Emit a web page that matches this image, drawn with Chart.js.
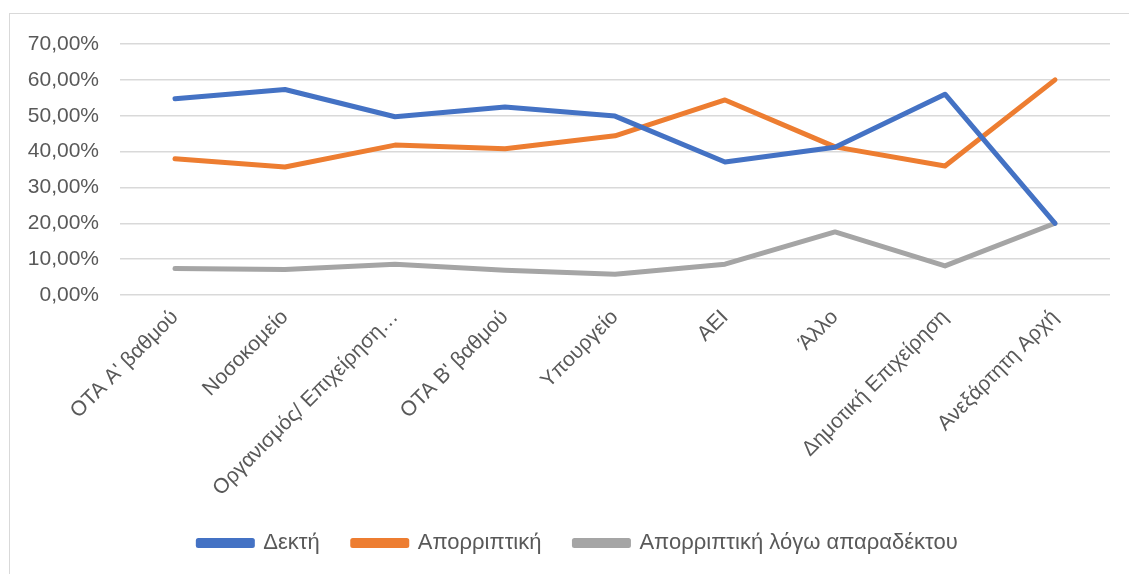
<!DOCTYPE html>
<html>
<head>
<meta charset="utf-8">
<script src="https://cdn.jsdelivr.net/npm/chart.js@4/dist/chart.umd.min.js"></script>
<style>
  html, body { margin: 0; padding: 0; background: #fff; overflow: hidden; }
  #wrap { position: relative; width: 1129px; height: 574px; }
  #frame { position: absolute; left: 9px; top: 13px; width: 1200px; height: 700px; border: 1px solid #d9d9d9; box-sizing: border-box; }
  canvas { position: absolute; left: 0; top: 0; }
</style>
</head>
<body>
<div id="wrap">
  <div id="frame"></div>
  <canvas id="c" width="1129" height="574"></canvas>
</div>
<script>
const categories = [
  "ΟΤΑ Α' βαθμού",
  "Νοσοκομείο",
  "Οργανισμός/ Επιχείρηση…",
  "ΟΤΑ Β' βαθμού",
  "Υπουργείο",
  "ΑΕΙ",
  "Άλλο",
  "Δημοτική Επιχείρηση",
  "Ανεξάρτητη Αρχή"
];
const dekti = [54.7, 57.3, 49.7, 52.4, 49.9, 37.1, 41.2, 56.0, 20.0];
const aporriptiki = [38.0, 35.7, 41.8, 40.8, 44.4, 54.4, 41.3, 36.0, 60.0];
const aporriptikiApar = [7.4, 7.1, 8.6, 6.9, 5.8, 8.6, 17.6, 8.1, 20.0];
const yTicks = [0, 10, 20, 30, 40, 50, 60, 70];

const FONT = "'Liberation Sans', 'DejaVu Sans', sans-serif";
const TXT = '#595959';

const shiftLegend = {
  id: 'shiftLegend',
  afterLayout(chart) {
    if (chart.legend) { chart.legend.left += 18; chart.legend.right += 18; }
  }
};

new Chart(document.getElementById('c'), {
  type: 'line',
  data: {
    labels: categories,
    datasets: [
      { label: 'Δεκτή', data: dekti, borderColor: '#4472C4', backgroundColor: '#4472C4' },
      { label: 'Απορριπτική', data: aporriptiki, borderColor: '#ED7D31', backgroundColor: '#ED7D31' },
      { label: 'Απορριπτική λόγω απαραδέκτου', data: aporriptikiApar, borderColor: '#A5A5A5', backgroundColor: '#A5A5A5' }
    ]
  },
  plugins: [shiftLegend],
  options: {
    responsive: false,
    animation: false,
    devicePixelRatio: 1,
    elements: {
      line: { borderWidth: 5, tension: 0, borderCapStyle: 'round', borderJoinStyle: 'round' },
      point: { radius: 0, hoverRadius: 0 }
    },
    layout: { padding: { left: 10, right: 19, top: 44, bottom: 10 } },
    scales: {
      x: {
        offset: true,
        grid: { display: false, drawTicks: false },
        border: { display: false },
        ticks: {
          color: TXT,
          font: { family: FONT, size: 21 },
          minRotation: 45, maxRotation: 45,
          padding: 10,
          autoSkip: false
        },
        afterFit: (s) => { s.height = 204; }
      },
      y: {
        min: 0, max: 70,
        grid: { color: '#d9d9d9', lineWidth: 1.5, drawTicks: false },
        border: { display: false },
        afterBuildTicks: (s) => { s.ticks = yTicks.map(v => ({ value: v })); },
        ticks: {
          color: TXT,
          font: { family: FONT, size: 21 },
          padding: 21,
          callback: (v) => v.toFixed(2).replace('.', ',') + '%'
        },
        afterFit: (s) => { s.width = 110; }
      }
    },
    plugins: {
      legend: {
        position: 'bottom',
        labels: {
          color: TXT,
          font: { family: FONT, size: 22 },
          boxWidth: 54,
          boxHeight: 5,
          padding: 33
        }
      },
      tooltip: { enabled: false }
    }
  }
});
</script>
</body>
</html>
